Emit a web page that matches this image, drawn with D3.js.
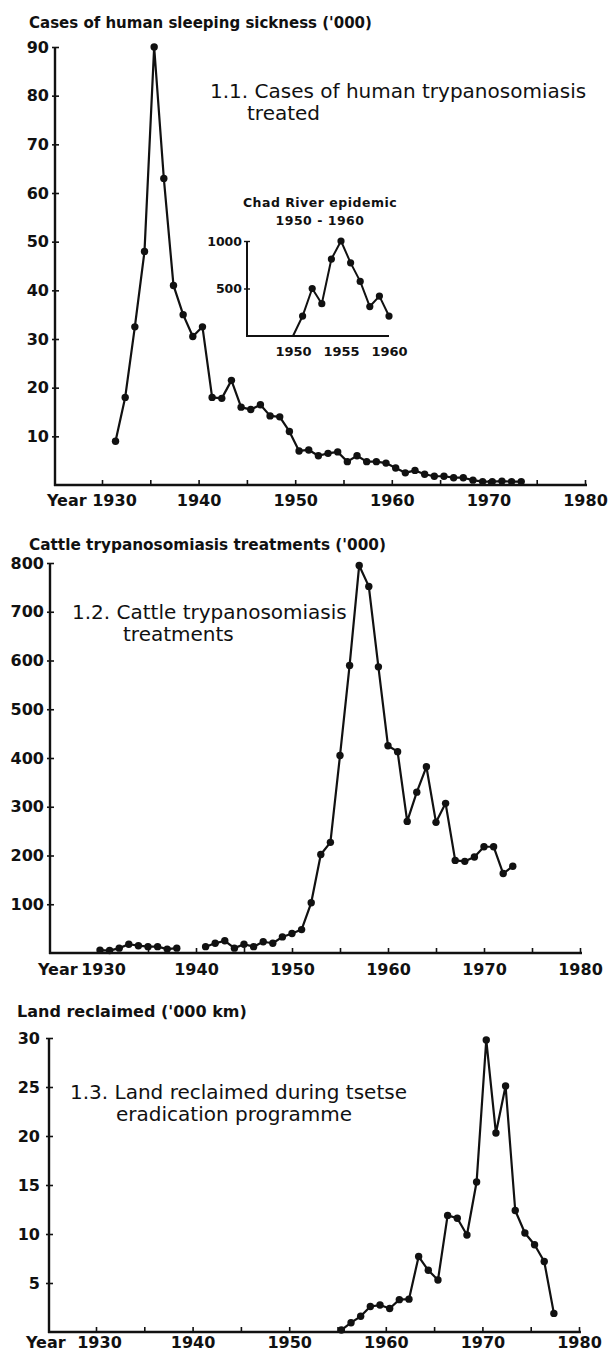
<!DOCTYPE html>
<html>
<head>
<meta charset="utf-8">
<script src="https://cdn.jsdelivr.net/npm/d3@7/dist/d3.min.js"></script>
<style>
	body { margin: 0; background: #fff; }
</style>
</head>
<body>
<div id="chart"></div>
<script>
// 1.1 cases of human sleeping sickness ('000)
var human_years = [1931, 1932, 1933, 1934, 1935, 1936, 1937, 1938, 1939, 1940,
	1941, 1942, 1943, 1944, 1945, 1946, 1947, 1948, 1949, 1950,
	1951, 1952, 1953, 1954, 1955, 1956, 1957, 1958, 1959, 1960,
	1961, 1962, 1963, 1964, 1965, 1966, 1967, 1968, 1969, 1970,
	1971, 1972, 1973];
var human_cases = [9, 18, 32.5, 48, 90, 63, 41, 35, 30.5, 32.5,
	18, 17.8, 21.5, 16, 15.5, 16.5, 14.2, 14, 11, 7,
	7.2, 6, 6.5, 6.8, 4.8, 6, 4.8, 4.8, 4.5, 3.5,
	2.5, 3, 2.2, 1.8, 1.8, 1.5, 1.5, 1, 0.7, 0.7,
	0.8, 0.7, 0.7];

// inset: Chad River epidemic 1950 - 1960
var chad_years = [1950, 1951, 1952, 1953, 1954, 1955, 1956, 1957, 1958, 1959, 1960];
var chad_cases = [0, 210, 500, 340, 810, 1000, 770, 575, 310, 420, 210];

// 1.2 cattle treatments ('000), no figures for 1939-40
var cattle_years = [1930, 1931, 1932, 1933, 1934, 1935, 1936, 1937, 1938, 1939,
	1940, 1941, 1942, 1943, 1944, 1945, 1946, 1947, 1948, 1949,
	1950, 1951, 1952, 1953, 1954, 1955, 1956, 1957, 1958, 1959,
	1960, 1961, 1962, 1963, 1964, 1965, 1966, 1967, 1968, 1969,
	1970, 1971, 1972, 1973];
var cattle_treatments = [6, 5, 10, 18, 15, 13, 13, 8, 10, null,
	null, 13, 20, 25, 10, 18, 13, 23, 20, 33,
	40, 48, 103, 202, 227, 405, 590, 795, 752, 587,
	425, 413, 270, 330, 382, 268, 307, 190, 188, 197,
	218, 218, 163, 178];

// 1.3 land reclaimed ('000 km)
var land_years = [1955, 1956, 1957, 1958, 1959, 1960, 1961, 1962, 1963, 1964,
	1965, 1966, 1967, 1968, 1969, 1970, 1971, 1972, 1973, 1974,
	1975, 1976, 1977];
var land_reclaimed = [0.2, 0.95, 1.6, 2.6, 2.75, 2.4, 3.3, 3.35, 7.7, 6.3,
	5.3, 11.9, 11.6, 9.9, 15.3, 29.8, 20.3, 25.1, 12.4, 10.1,
	8.9, 7.2, 1.9];

var year_ticks = [1930, 1935, 1940, 1945, 1950, 1955, 1960, 1965, 1970, 1975, 1980];
var human_ticks = [10, 20, 30, 40, 50, 60, 70, 80, 90];
var cattle_ticks = [100, 200, 300, 400, 500, 600, 700, 800];
var land_ticks = [5, 10, 15, 20, 25, 30];
var chad_yticks = [500, 1000];
var chad_xticks = [1950, 1955, 1960];

var ink = "#111",
	font = "'DejaVu Sans', sans-serif";

var svg = d3.select("#chart")
	.append("svg")
	.attr("width", 616)
	.attr("height", 1359);

svg.append("rect")
	.attr("width", 616)
	.attr("height", 1359)
	.attr("fill", "#fff");

function zip(xs, vs) {
	return xs.map(function(d, i){ return {year: d, v: vs[i]}; });
}

function draw_panel(p) {
	var x = d3.scaleLinear().domain([1930, 1980]).range([p.x0, p.x1]),
		y = d3.scaleLinear().domain([0, p.ymax]).range([p.base, p.top]),
		g = svg.append("g");

	// x axis: ticks every 5 years pointing up, labels each decade
	var xa = g.append("g")
		.attr("transform", "translate(0," + p.base + ")")
		.call(d3.axisBottom(x)
			.tickValues(year_ticks)
			.tickSizeInner(-5)
			.tickSizeOuter(0)
			.tickPadding(p.xpad)
			.tickFormat(function(d){ return d % 10 == 0 ? d : ""; }));
	xa.select(".domain").remove();
	xa.selectAll(".tick line").attr("stroke", ink).attr("stroke-width", 1.6);
	xa.selectAll(".tick text")
		.attr("font-family", font)
		.attr("font-weight", "bold")
		.attr("font-size", "16px")
		.attr("fill", ink)
		.attr("dx", function(d){ return d == 1930 ? p.dx1930 : 0; });

	g.append("text")
		.text("Year")
		.attr("x", p.yearx)
		.attr("y", p.base + p.xpad + 11.4)
		.attr("font-family", font)
		.attr("font-weight", "bold")
		.attr("font-size", "16px")
		.attr("fill", ink);

	// y axis
	var ya = g.append("g")
		.attr("transform", "translate(" + p.ax + ",0)")
		.call(d3.axisLeft(y)
			.tickValues(p.yticks)
			.tickSizeInner(3)
			.tickSizeOuter(0)
			.tickPadding(p.ypad));
	ya.select(".domain").remove();
	ya.selectAll(".tick line").attr("x1", 4).attr("stroke", ink).attr("stroke-width", 1.6);
	ya.selectAll(".tick text")
		.attr("font-family", font)
		.attr("font-weight", "bold")
		.attr("font-size", "16px")
		.attr("fill", ink);

	g.append("line")
		.attr("x1", p.ax).attr("x2", p.ax)
		.attr("y1", p.base + 1).attr("y2", y(p.ymax))
		.attr("stroke", ink).attr("stroke-width", 2.4);
	g.append("line")
		.attr("x1", p.ax - 1).attr("x2", x(1980) + 2)
		.attr("y1", p.base).attr("y2", p.base)
		.attr("stroke", ink).attr("stroke-width", 2.4);

	// series, annual totals drawn p.mid of a year along
	var line = d3.line()
		.defined(function(d){ return d.v != null; })
		.x(function(d){ return x(d.year + p.mid); })
		.y(function(d){ return y(d.v); });

	g.append("path")
		.datum(p.data)
		.attr("d", line)
		.attr("fill", "none")
		.attr("stroke", ink)
		.attr("stroke-width", 2.2)
		.attr("stroke-linejoin", "round");

	g.append("g")
		.selectAll("circle")
		.data(p.data.filter(function(d){ return d.v != null; }))
		.enter()
		.append("circle")
		.attr("cx", function(d){ return x(d.year + p.mid); })
		.attr("cy", function(d){ return y(d.v); })
		.attr("r", 3.7)
		.attr("fill", ink);

	// axis title
	g.append("text")
		.text(p.title)
		.attr("x", p.titlex)
		.attr("y", p.titley)
		.attr("font-family", font)
		.attr("font-weight", "bold")
		.attr("font-size", p.titlesize)
		.attr("fill", ink);

	// figure caption inside the plot
	g.append("g")
		.selectAll("text")
		.data(p.caption)
		.enter()
		.append("text")
		.text(function(d){ return d.text; })
		.attr("x", function(d){ return d.x; })
		.attr("y", function(d){ return d.y; })
		.attr("font-family", font)
		.attr("font-size", "20px")
		.attr("fill", ink);
}

draw_panel({
	data: zip(human_years, human_cases), mid: 0.4,
	x0: 102, x1: 585, ax: 55, base: 485, top: 47, ymax: 90,
	yticks: human_ticks, xpad: 9.5, ypad: 3, dx1930: 12, yearx: 47,
	title: "Cases of human sleeping sickness ('000)", titlex: 29, titley: 28, titlesize: "15px",
	caption: [{text: "1.1. Cases of human trypanosomiasis", x: 210, y: 98}, {text: "treated", x: 247, y: 120}]
});

draw_panel({
	data: zip(cattle_years, cattle_treatments), mid: 0,
	x0: 100, x1: 580, ax: 50, base: 953, top: 563, ymax: 800,
	yticks: cattle_ticks, xpad: 10.5, ypad: 3, dx1930: 3, yearx: 38,
	title: "Cattle trypanosomiasis treatments ('000)", titlex: 29, titley: 550, titlesize: "15.3px",
	caption: [{text: "1.2. Cattle trypanosomiasis", x: 72, y: 619}, {text: "treatments", x: 123, y: 641}]
});

draw_panel({
	data: zip(land_years, land_reclaimed), mid: 0.4,
	x0: 96, x1: 579, ax: 49, base: 1332, top: 1038, ymax: 30,
	yticks: land_ticks, xpad: 4.5, ypad: 6, dx1930: 3, yearx: 26,
	title: "Land reclaimed ('000 km)", titlex: 17, titley: 1017, titlesize: "16px",
	caption: [{text: "1.3. Land reclaimed during tsetse", x: 70, y: 1099}, {text: "eradication programme", x: 116, y: 1121}]
});

// Chad River inset inside panel 1.1
var ix = d3.scaleLinear().domain([1945, 1960]).range([245, 389]),
	iy = d3.scaleLinear().domain([0, 1000]).range([336, 241]),
	inset = svg.append("g");

var ixa = inset.append("g")
	.attr("transform", "translate(0,336)")
	.call(d3.axisBottom(ix).tickValues(chad_xticks).tickSize(0).tickPadding(11).tickFormat(d3.format("d")));
ixa.select(".domain").remove();
ixa.selectAll("text")
	.attr("font-family", font)
	.attr("font-weight", "bold")
	.attr("font-size", "13px")
	.attr("fill", ink);

var iya = inset.append("g")
	.attr("transform", "translate(247,0)")
	.call(d3.axisLeft(iy).tickValues(chad_yticks).tickSizeInner(3).tickSizeOuter(0).tickPadding(2).tickFormat(d3.format("d")));
iya.select(".domain").remove();
iya.selectAll(".tick line").attr("x1", 3).attr("stroke", ink).attr("stroke-width", 1.4);
iya.selectAll("text")
	.attr("font-family", font)
	.attr("font-weight", "bold")
	.attr("font-size", "12.5px")
	.attr("fill", ink);

inset.append("line")
	.attr("x1", 247).attr("x2", 247).attr("y1", 337).attr("y2", 241)
	.attr("stroke", ink).attr("stroke-width", 2);
inset.append("line")
	.attr("x1", 246).attr("x2", 389).attr("y1", 336).attr("y2", 336)
	.attr("stroke", ink).attr("stroke-width", 2);

var chad = zip(chad_years, chad_cases);
inset.append("path")
	.datum(chad)
	.attr("d", d3.line().x(function(d){ return ix(d.year); }).y(function(d){ return iy(d.v); }))
	.attr("fill", "none")
	.attr("stroke", ink)
	.attr("stroke-width", 2)
	.attr("stroke-linejoin", "round");

inset.append("g")
	.selectAll("circle")
	.data(chad.slice(1))
	.enter()
	.append("circle")
	.attr("cx", function(d){ return ix(d.year); })
	.attr("cy", function(d){ return iy(d.v); })
	.attr("r", 3.6)
	.attr("fill", ink);

inset.append("g")
	.selectAll("text")
	.data([{text: "Chad River epidemic", y: 207}, {text: "1950 - 1960", y: 225}])
	.enter()
	.append("text")
	.text(function(d){ return d.text; })
	.attr("x", 320)
	.attr("y", function(d){ return d.y; })
	.attr("text-anchor", "middle")
	.attr("font-family", font)
	.attr("font-weight", "bold")
	.attr("font-size", "12.5px")
	.attr("fill", ink)
	.style("letter-spacing", 0.5);
</script>
</body>
</html>
